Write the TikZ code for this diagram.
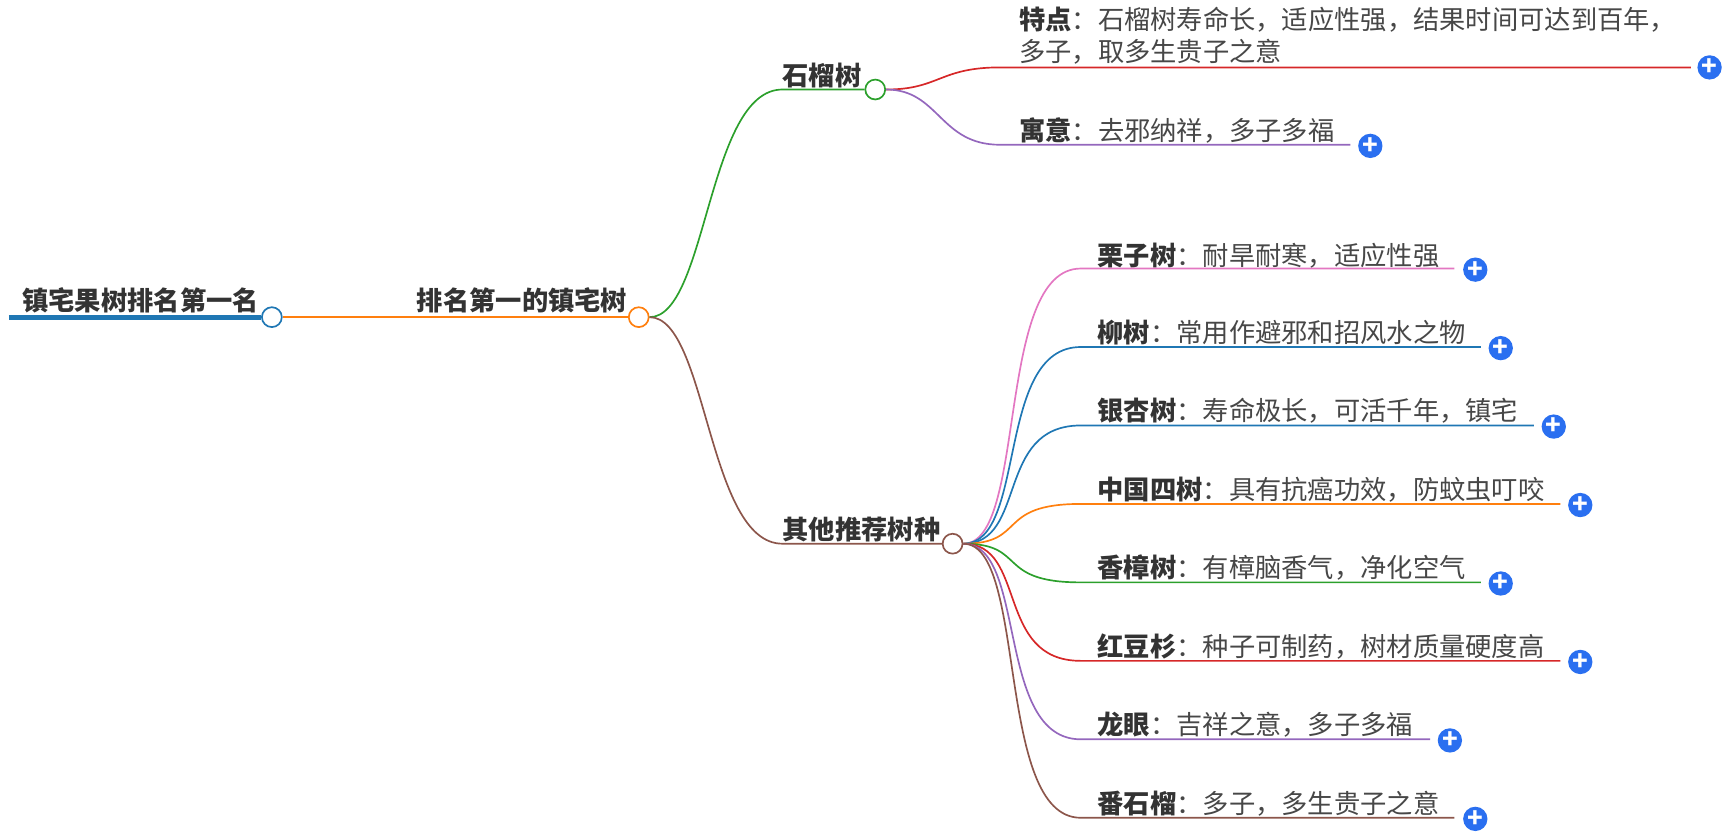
\documentclass[tikz,border=0pt]{standalone}
\usepackage{fontspec}
\setmainfont{Noto Sans CJK SC}
\usetikzlibrary{positioning,calc}
\definecolor{cblue}{HTML}{1F77B4}
\definecolor{corange}{HTML}{FF7F0E}
\definecolor{cgreen}{HTML}{2CA02C}
\definecolor{cred}{HTML}{D62728}
\definecolor{cpurple}{HTML}{9467BD}
\definecolor{cbrown}{HTML}{8C564B}
\definecolor{cpink}{HTML}{E377C2}
\definecolor{plusblue}{HTML}{2A6FF0}
\begin{document}
\begin{tikzpicture}[x=0.03cm,y=-0.03cm,font=\fontsize{20.3}{25}\selectfont]
\tikzstyle{knot} = [circle,draw,fill=white,line width=1.3pt,minimum size=0.54cm,inner sep=0pt]
\tikzstyle{plus} = [circle,fill=plusblue,text=white,minimum size=0.66cm,inner sep=0pt,font=\bfseries\fontsize{20}{20}\selectfont]
\tikzstyle{head} = [anchor=west,inner sep=0pt,text=black!80,font=\bfseries\fontsize{20.3}{25}\selectfont]
\tikzstyle{leaf} = [anchor=west,inner sep=0pt,text=black!72,align=left]
\tikzstyle{wire} = [line width=1.3pt]
\useasboundingbox (0,0) rectangle (1570,760);
% root
\node[head] (root) at (20,272) {镇宅果树排名第一名};
\node[knot,draw=cblue] (r) at (246,287) {};
\draw[cblue,line width=4pt] (8,287) -- (r);
% first level
\node[head] (top) at (377,272) {排名第一的镇宅树};
\node[knot,draw=corange] (t) at (578,287) {};
\draw[corange,line width=1.6pt] (r) -- (t);
% pomegranate
\node[head] (pom) at (708,68) {石榴树};
\node[knot,draw=cgreen] (p) at (792,81) {};
\coordinate (p0) at (708,81);
\draw[cgreen,wire] (t) .. controls (640,287) and (640,81) .. (p0) -- (p);
% others
\node[head] (oth) at (708,479) {其他推荐树种};
\node[knot,draw=cbrown] (o) at (862,492) {};
\coordinate (o0) at (708,492);
\draw[cbrown,wire] (t) .. controls (640,287) and (640,492) .. (o0) -- (o);
% pomegranate leaves
\node[leaf] (a1) at (922,32) {\textbf{\color{black!80}特点}：石榴树寿命长，适应性强，结果时间可达到百年，\\多子，取多生贵子之意};
\node[plus] (pa1) at (1547,61) {+};
\draw[cred,wire] (p) .. controls (850,81) and (850,61) .. (905,61) -- (1530,61);
\node[leaf] (a2) at (922,118) {\textbf{\color{black!80}寓意}：去邪纳祥，多子多福};
\node[plus] (pa2) at (1240,132) {+};
\draw[cpurple,wire] (p) .. controls (850,81) and (850,131) .. (905,131) -- (1222,131);
% other leaves
\node[leaf] (b1) at (993,231) {\textbf{\color{black!80}栗子树}：耐旱耐寒，适应性强};
\node[plus] (pb1) at (1335,244) {+};
\draw[cpink,wire] (o) .. controls (930,492) and (900,243) .. (978,243) -- (1316,243);
\node[leaf] (b2) at (993,301) {\textbf{\color{black!80}柳树}：常用作避邪和招风水之物};
\node[plus] (pb2) at (1358,315) {+};
\draw[cblue,wire] (o) .. controls (930,492) and (900,314) .. (978,314) -- (1340,314);
\node[leaf] (b3) at (993,372) {\textbf{\color{black!80}银杏树}：寿命极长，可活千年，镇宅};
\node[plus] (pb3) at (1406,386) {+};
\draw[cblue,wire] (o) .. controls (930,492) and (900,385) .. (978,385) -- (1388,385);
\node[leaf] (b4) at (993,443) {\textbf{\color{black!80}中国四树}：具有抗癌功效，防蚊虫叮咬};
\node[plus] (pb4) at (1430,457) {+};
\draw[corange,wire] (o) .. controls (930,492) and (900,456) .. (978,456) -- (1412,456);
\node[leaf] (b5) at (993,514) {\textbf{\color{black!80}香樟树}：有樟脑香气，净化空气};
\node[plus] (pb5) at (1358,528) {+};
\draw[cgreen,wire] (o) .. controls (930,492) and (900,527) .. (978,527) -- (1340,527);
\node[leaf] (b6) at (993,585) {\textbf{\color{black!80}红豆杉}：种子可制药，树材质量硬度高};
\node[plus] (pb6) at (1430,599) {+};
\draw[cred,wire] (o) .. controls (930,492) and (900,598) .. (978,598) -- (1412,598);
\node[leaf] (b7) at (993,656) {\textbf{\color{black!80}龙眼}：吉祥之意，多子多福};
\node[plus] (pb7) at (1312,670) {+};
\draw[cpurple,wire] (o) .. controls (930,492) and (900,669) .. (978,669) -- (1294,669);
\node[leaf] (b8) at (993,727) {\textbf{\color{black!80}番石榴}：多子，多生贵子之意};
\node[plus] (pb8) at (1335,741) {+};
\draw[cbrown,wire] (o) .. controls (930,492) and (900,740) .. (978,740) -- (1316,740);
\end{tikzpicture}
\end{document}
